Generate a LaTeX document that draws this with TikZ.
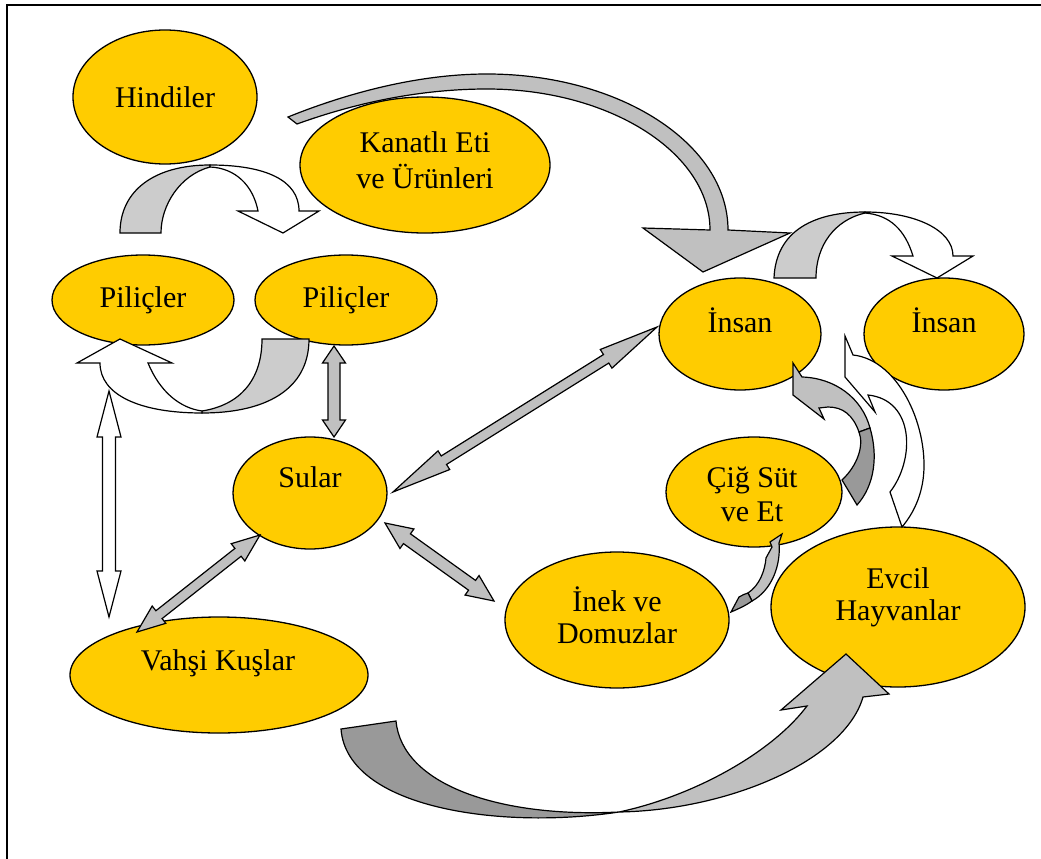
\documentclass[tikz,border=0pt]{standalone}
\usepackage{fontspec}
\setmainfont{Liberation Serif}
\usetikzlibrary{calc,shapes.geometric}
\definecolor{blobfill}{RGB}{255,204,0}
\definecolor{lgray}{RGB}{192,192,192}
\definecolor{ugray}{RGB}{204,204,204}
\definecolor{dgray}{RGB}{153,153,153}
\newcommand{\dblarr}[6]{%
  \filldraw[#1] (#2)
   -- ($(#2)!#4!(#3)!#5!90:(#3)$)
   -- ($(#2)!#4!(#3)!#6!90:(#3)$)
   -- ($(#3)!#4!(#2)!#6!-90:(#2)$)
   -- ($(#3)!#4!(#2)!#5!-90:(#2)$)
   -- (#3)
   -- ($(#3)!#4!(#2)!#5!90:(#2)$)
   -- ($(#3)!#4!(#2)!#6!90:(#2)$)
   -- ($(#2)!#4!(#3)!#6!-90:(#3)$)
   -- ($(#2)!#4!(#3)!#5!-90:(#3)$)
   -- cycle;}
\begin{document}
\begin{tikzpicture}[x=1pt,y=-1pt,line join=miter,
  blob/.style={ellipse,draw=black,line width=1.3pt,fill=blobfill,inner sep=0pt},
  lbl/.style={anchor=base,inner sep=0pt,font=\fontsize{30}{35}\selectfont},
  shp/.style={draw=black,line width=1.2pt}]
\useasboundingbox (0,0) rectangle (1041,859);
\draw[line width=1.2pt] (7,859) -- (7,5) -- (1041,5);
% ellipses
\node[blob,minimum width=184pt,minimum height=134pt] (hind) at (165,97) {};
\node[blob,minimum width=250pt,minimum height=136pt] (kan) at (425,165) {};
\node[blob,minimum width=182pt,minimum height=90pt] (pil1) at (143,300) {};
\node[blob,minimum width=182pt,minimum height=90pt] (pil2) at (346,300) {};
\node[blob,minimum width=154pt,minimum height=112pt] (sul) at (310,493) {};
\node[blob,minimum width=162pt,minimum height=112pt] (ins1) at (740,334) {};
\node[blob,minimum width=160pt,minimum height=112pt] (ins2) at (944,334) {};
\node[blob,minimum width=176pt,minimum height=110pt] (cig) at (754,492) {};
\node[blob,minimum width=254pt,minimum height=160pt] (evc) at (898,607) {};
\node[blob,minimum width=224pt,minimum height=136pt] (inek) at (617,620) {};
\node[blob,minimum width=298pt,minimum height=116pt] (vah) at (219,675) {};
% labels
\node[lbl] (thind) at (165,107) {Hindiler};
\node[lbl] (tkan1) at (425,152) {Kanatlı Eti};
\node[lbl] (tkan2) at (425,188) {ve Ürünleri};
\node[lbl] (tpil1) at (143,307) {Piliçler};
\node[lbl] (tpil2) at (346,307) {Piliçler};
\node[lbl] (tsul) at (310,487) {Sular};
\node[lbl] (tins1) at (740,332) {İnsan};
\node[lbl] (tins2) at (944,332) {İnsan};
\node[lbl] (tcig1) at (752,487) {Çiğ Süt};
\node[lbl] (tcig2) at (752,521) {ve Et};
\node[lbl] (tevc1) at (898,588) {Evcil};
\node[lbl] (tevc2) at (898,620) {Hayvanlar};
\node[lbl] (tinek1) at (617,611) {İnek ve};
\node[lbl] (tinek2) at (617,643) {Domuzlar};
\node[lbl] (tvah) at (218,670) {Vahşi Kuşlar};
% tips of double arrows
\coordinate (pA) at (334,346); \coordinate (pB) at (334,437);
\coordinate (wA) at (109,391); \coordinate (wB) at (109,617);
\coordinate (vA) at (260,535); \coordinate (vB) at (137,632);
\coordinate (iA) at (657,327); \coordinate (iB) at (393,492);
\coordinate (kA) at (385,523); \coordinate (kB) at (494,601);
\dblarr{shp,fill=lgray}{pA}{pB}{17pt}{11.5pt}{6pt}
\dblarr{shp,fill=white}{wA}{wB}{46pt}{12pt}{6.5pt}
\dblarr{shp,fill=lgray}{vA}{vB}{28pt}{11pt}{5pt}
\dblarr{shp,fill=lgray}{iA}{iB}{60pt}{11pt}{5pt}
\dblarr{shp,fill=lgray}{kA}{kB}{27pt}{12pt}{6pt}
% U-turn Hindiler -> Kanatli
\filldraw[shp,fill=ugray] (120,233) .. controls (120,190) and (155,165) .. (210,165)
  -- (210,167) .. controls (180,175) and (161,205) .. (161,233) -- cycle;
\filldraw[shp,fill=white] (210,165) .. controls (265,165) and (299,180) .. (299,211)
  -- (319,211) -- (283,233) -- (238,211) -- (258,211)
  .. controls (253,185) and (235,168) .. (210,167) -- cycle;
% U-turn under Pilicler
\filldraw[shp,fill=ugray] (309,339) .. controls (309,390) and (265,413) .. (202,413)
  -- (202,411) .. controls (240,405) and (262,380) .. (262,339) -- cycle;
\filldraw[shp,fill=white] (202,413) .. controls (140,413) and (100,395) .. (100,363)
  -- (77,363) -- (120,339) -- (172,363) -- (148,363)
  .. controls (160,392) and (180,408) .. (202,411) -- cycle;
% big top arrow
\filldraw[shp,fill=lgray] (288,117) .. controls (350,92) and (420,74) .. (487,74)
  .. controls (620,74) and (728,144) .. (728,230)
  -- (790,233) -- (703,272) -- (643,228) -- (710,230)
  .. controls (710,153) and (610,89) .. (487,89)
  .. controls (420,89) and (355,103) .. (297,124) -- cycle;
% U-turn Insan -> Insan
\filldraw[shp,fill=ugray] (774,278) .. controls (776,230) and (815,212) .. (865,212)
  -- (865,213) .. controls (835,220) and (816,245) .. (816,278) -- cycle;
\filldraw[shp,fill=white] (865,212) .. controls (915,212) and (953,230) .. (953,256)
  -- (973,256) -- (937,278) -- (892,256) -- (913,256)
  .. controls (905,230) and (890,215) .. (865,213) -- cycle;
% Evcil -> Insan (white)
\filldraw[shp,fill=white] (845,336) -- (853,355)
  .. controls (900,360) and (930,430) .. (923,480)
  .. controls (920,500) and (912,515) .. (902,527)
  -- (890,492) .. controls (915,460) and (915,400) .. (868,395)
  -- (875,412) -- (845,377) -- cycle;
% Cig -> Insan
\filldraw[shp,fill=lgray] (793,363) -- (802,377)
  .. controls (835,378) and (862,398) .. (870,428)
  -- (859,432) .. controls (853,415) and (843,407) .. (828,407)
  -- (819,408) -- (824,419) -- (793,395) -- cycle;
\filldraw[shp,fill=dgray] (870,428) .. controls (878,455) and (875,485) .. (857,505)
  -- (842,480) .. controls (858,465) and (864,445) .. (859,432) -- cycle;
% Inek -> Cig
\filldraw[shp,fill=lgray] (782,534) -- (779,543)
  .. controls (781,565) and (772,590) .. (752,601)
  -- (748,593) .. controls (760,585) and (765,570) .. (766,558)
  -- (772,547) -- (770,542) -- cycle;
\filldraw[shp,fill=dgray] (752,601) .. controls (745,606) and (738,609) .. (731,612)
  -- (739,597) .. controls (742,595) and (745,594) .. (748,593) -- cycle;
% Vahsi -> Evcil
\filldraw[shp,fill=dgray] (341,729) -- (396,721)
  .. controls (402,785) and (500,818) .. (619,812)
  .. controls (500,830) and (347,808) .. (341,729) -- cycle;
\filldraw[shp,fill=lgray] (619,812) .. controls (690,797) and (770,755) .. (807,706)
  -- (781,710) -- (846,654) -- (889,694) -- (863,697)
  .. controls (845,760) and (730,810) .. (619,812) -- cycle;
\end{tikzpicture}
\end{document}
